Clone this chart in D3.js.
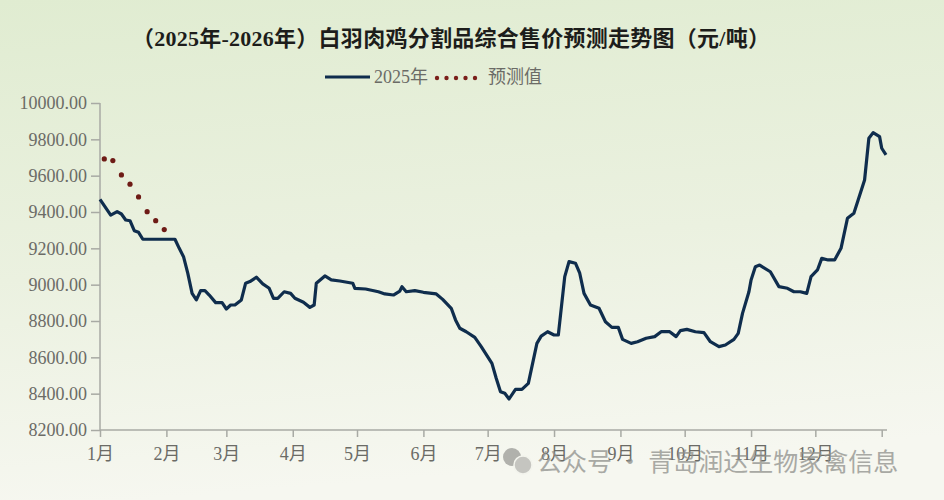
<!DOCTYPE html>
<html lang="zh">

<head>
    <meta charset="utf-8">
    <title>白羽肉鸡分割品综合售价预测走势图</title>
    <script type="text/javascript" src="https://d3js.org/d3.v7.min.js"></script>
    <style>
        body { margin: 0; padding: 0; overflow: hidden; }
        svg { display: block; }
    </style>
</head>

<body>
    <div id="container"></div>
    <script type="text/javascript">
        var w = 944;
        var h = 500;

        // 2025 price series (date, 元/吨)
        var priceDates = ["2025-01-01", "2025-01-06", "2025-01-09", "2025-01-11", "2025-01-13", "2025-01-15",
            "2025-01-17", "2025-01-19", "2025-01-21", "2025-02-05", "2025-02-07", "2025-02-09", "2025-02-11",
            "2025-02-13", "2025-02-15", "2025-02-17", "2025-02-19", "2025-02-21", "2025-02-24", "2025-02-27",
            "2025-03-01", "2025-03-03", "2025-03-05", "2025-03-08", "2025-03-10", "2025-03-12", "2025-03-15",
            "2025-03-18", "2025-03-21", "2025-03-23", "2025-03-25", "2025-03-28", "2025-03-31", "2025-04-02",
            "2025-04-06", "2025-04-09", "2025-04-11", "2025-04-12", "2025-04-16", "2025-04-19", "2025-04-23",
            "2025-04-29", "2025-04-30", "2025-05-05", "2025-05-11", "2025-05-14", "2025-05-18", "2025-05-21",
            "2025-05-22", "2025-05-24", "2025-05-28", "2025-06-01", "2025-06-07", "2025-06-10", "2025-06-14",
            "2025-06-16", "2025-06-18", "2025-06-21", "2025-06-25", "2025-06-28", "2025-07-03", "2025-07-05",
            "2025-07-07", "2025-07-09", "2025-07-11", "2025-07-14", "2025-07-17", "2025-07-20", "2025-07-24",
            "2025-07-26", "2025-07-29", "2025-08-01", "2025-08-03", "2025-08-06", "2025-08-08", "2025-08-11",
            "2025-08-13", "2025-08-15", "2025-08-18", "2025-08-22", "2025-08-25", "2025-08-28", "2025-08-31",
            "2025-09-02", "2025-09-06", "2025-09-09", "2025-09-13", "2025-09-17", "2025-09-20", "2025-09-24",
            "2025-09-27", "2025-09-29", "2025-10-02", "2025-10-06", "2025-10-10", "2025-10-13", "2025-10-17",
            "2025-10-20", "2025-10-24", "2025-10-26", "2025-10-28", "2025-10-31", "2025-11-01", "2025-11-03",
            "2025-11-05", "2025-11-10", "2025-11-14", "2025-11-18", "2025-11-21", "2025-11-24", "2025-11-27",
            "2025-11-29", "2025-12-02", "2025-12-04", "2025-12-07", "2025-12-10", "2025-12-13", "2025-12-16",
            "2025-12-19", "2025-12-21", "2025-12-24", "2025-12-26", "2025-12-28", "2025-12-31", "2026-01-01",
            "2026-01-03"];
        var priceValues = [9470, 9383, 9402, 9389, 9356, 9352,
            9297, 9288, 9250, 9250, 9200, 9154, 9062,
            8952, 8916, 8967, 8967, 8943, 8901, 8901,
            8866, 8888, 8888, 8916, 9008, 9017, 9041,
            9004, 8980, 8925, 8925, 8961, 8952, 8925,
            8903, 8875, 8888, 9008, 9048, 9026, 9020,
            9008, 8980, 8976, 8961, 8949, 8943, 8965,
            8989, 8961, 8967, 8958, 8949, 8919, 8870,
            8806, 8760, 8741, 8710, 8659, 8567, 8485,
            8411, 8402, 8371, 8424, 8424, 8457, 8677,
            8717, 8741, 8723, 8723, 9044, 9127, 9118,
            9063, 8952, 8888, 8870, 8796, 8765, 8765,
            8699, 8677, 8686, 8705, 8714, 8741, 8741,
            8714, 8747, 8754, 8741, 8736, 8686, 8659,
            8668, 8699, 8732, 8842, 8961, 9026, 9099,
            9108, 9071, 8989, 8980, 8961, 8961, 8952,
            9044, 9081, 9145, 9136, 9136, 9200, 9365,
            9393, 9466, 9576, 9806, 9837, 9815, 9751,
            9714];

        // forecast dots
        var forecastDates = ["2025-01-03", "2025-01-07", "2025-01-11", "2025-01-15",
            "2025-01-19", "2025-01-23", "2025-01-27", "2025-01-31"];
        var forecastValues = [9692, 9683, 9604, 9553, 9483, 9402, 9352, 9303];

        var monthLabels = ["1月", "2月", "3月", "4月", "5月", "6月", "7月", "8月", "9月", "10月", "11月", "12月"];
        var yTicks = [8200, 8400, 8600, 8800, 9000, 9200, 9400, 9600, 9800, 10000];

        var title = "（2025年-2026年）白羽肉鸡分割品综合售价预测走势图（元/吨）";
        var seriesNames = ["2025年", "预测值"];
        var watermark = "公众号 · 青岛润达生物家禽信息";

        var parse = d3.timeParse("%Y-%m-%d");
        var series = priceDates.map((d, i) => ({ date: parse(d), value: priceValues[i] }));
        var forecast = forecastDates.map((d, i) => ({ date: parse(d), value: forecastValues[i] }));

        const svg = d3.select("div#container")
            .append("svg")
            .attr("width", w)
            .attr("height", h)
            .attr("viewBox", "0 0 " + w + " " + h);

        // pale green background, lighter toward bottom
        var defs = svg.append("defs");
        var grad = defs.append("linearGradient")
            .attr("id", "bg")
            .attr("x1", 0).attr("y1", 0).attr("x2", 0.15).attr("y2", 1);
        grad.append("stop").attr("offset", "0%").attr("stop-color", "#e0ecd1");
        grad.append("stop").attr("offset", "55%").attr("stop-color", "#ebf1e0");
        grad.append("stop").attr("offset", "100%").attr("stop-color", "#f6f7f0");
        svg.append("rect").attr("width", w).attr("height", h).attr("fill", "url(#bg)");

        var serif = "'Liberation Serif', 'DejaVu Serif', 'Noto Sans CJK SC', serif";
        var axisColor = "#a8aaa4";
        var textColor = "#6b6b66";

        var x = d3.scaleTime()
            .domain([parse("2025-01-01"), parse("2026-01-03")])
            .range([100, 886]);
        var y = d3.scaleLinear()
            .domain([8200, 10000])
            .range([430, 103]);

        // title
        svg.append("text")
            .attr("x", 451)
            .attr("y", 46)
            .attr("text-anchor", "middle")
            .attr("textLength", 638)
            .attr("lengthAdjust", "spacing")
            .style("font-family", serif)
            .style("font-weight", "bold")
            .style("font-size", "22px")
            .style("fill", "#1d1d1b")
            .text(title);

        // legend
        var legend = svg.append("g");
        legend.append("line")
            .attr("x1", 325).attr("x2", 370)
            .attr("y1", 77).attr("y2", 77)
            .attr("stroke", "#0f2d4d")
            .attr("stroke-width", 3);
        legend.append("text")
            .attr("x", 374).attr("y", 83)
            .style("font-family", serif)
            .style("font-size", "18px")
            .style("fill", textColor)
            .text(seriesNames[0]);
        legend.selectAll("circle")
            .data(d3.range(5))
            .enter()
            .append("circle")
            .attr("cx", (d) => 437 + d * 9.5)
            .attr("cy", 78)
            .attr("r", 2.2)
            .attr("fill", "#7a1f1a");
        legend.append("text")
            .attr("x", 488).attr("y", 83)
            .style("font-family", serif)
            .style("font-size", "18px")
            .style("fill", textColor)
            .text(seriesNames[1]);

        // y axis
        var yAxis = svg.append("g")
            .attr("transform", "translate(100,0)")
            .call(d3.axisLeft(y).tickValues(yTicks).tickFormat(d3.format(".2f")).tickSize(9).tickPadding(4));
        // x axis
        var monthTicks = d3.timeMonth.range(parse("2025-01-01"), parse("2026-01-02"));
        var xAxis = svg.append("g")
            .attr("transform", "translate(0,430)")
            .call(d3.axisBottom(x).tickValues(monthTicks)
                .tickFormat((d, i) => i < 12 ? monthLabels[i] : "")
                .tickSize(7).tickPadding(10).tickSizeOuter(0));

        [xAxis, yAxis].forEach(function (g) {
            g.select(".domain").attr("stroke", axisColor).attr("stroke-width", 1.5);
            g.selectAll(".tick line").attr("stroke", axisColor).attr("stroke-width", 1.5);
            g.selectAll(".tick text")
                .style("font-family", serif)
                .style("font-size", "18px")
                .style("fill", textColor);
        });
        yAxis.select(".domain").attr("d", "M-0,430V103");
        xAxis.select(".domain").attr("d", "M100,0H887");

        // 2025 line
        var line = d3.line()
            .x((d) => x(d.date))
            .y((d) => y(d.value))
            .curve(d3.curveLinear);
        svg.append("path")
            .datum(series)
            .attr("fill", "none")
            .attr("stroke", "#0f2d4d")
            .attr("stroke-width", 3.2)
            .attr("stroke-linejoin", "round")
            .attr("d", line);

        // forecast dots
        svg.selectAll("circle.forecast")
            .data(forecast)
            .enter()
            .append("circle")
            .attr("class", "forecast")
            .attr("cx", (d) => x(d.date))
            .attr("cy", (d) => y(d.value))
            .attr("r", 2.6)
            .attr("fill", "#6e1b16");

        // watermark (overlaps the month labels, as in the source image)
        var wm = svg.append("g").attr("opacity", 0.75);
        wm.append("circle").attr("cx", 512).attr("cy", 457).attr("r", 9).attr("fill", "#9a9a96");
        wm.append("circle").attr("cx", 523).attr("cy", 465).attr("r", 9).attr("fill", "#b5b5b1")
            .attr("stroke", "#f2f3ec").attr("stroke-width", 1.5);
        wm.append("text")
            .attr("x", 537).attr("y", 471)
            .style("font-family", "'Noto Sans CJK SC', sans-serif")
            .style("font-size", "25px")
            .style("fill", "#8f8f8b")
            .text(watermark);
    </script>
</body>

</html>
